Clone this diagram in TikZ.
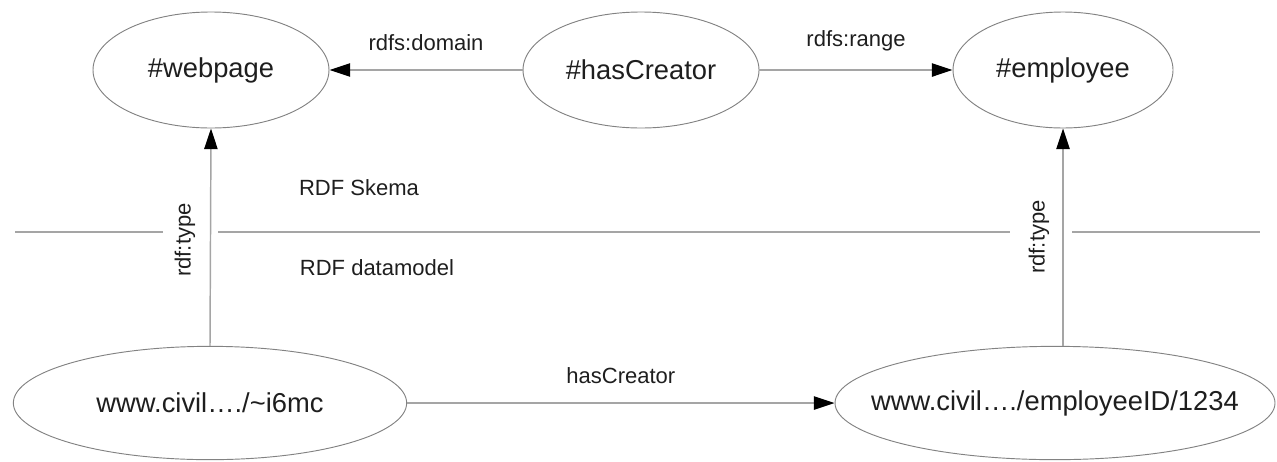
\documentclass[tikz,border=0pt]{standalone}
\usepackage{fontspec}
\setmainfont{Liberation Sans}
\usetikzlibrary{arrows.meta,shapes.geometric}
\definecolor{edgegray}{RGB}{165,165,165}
\definecolor{ellgray}{RGB}{130,130,130}
\definecolor{txt}{RGB}{30,30,30}
\tikzset{
  ell/.style={ellipse, draw=ellgray, line width=0.7pt, inner sep=0pt},
  elltext/.style={text=txt, inner sep=0pt, font=\fontsize{20.5}{24}\selectfont},
  edge/.style={draw=edgegray, line width=1.1pt},
  arr/.style={edge, -{Triangle[length=15.5pt,width=10pt,fill=black,color=black]}},
  lbl/.style={text=txt, inner sep=0pt, font=\fontsize{16.5}{20}\selectfont},
}
\begin{document}
\begin{tikzpicture}[x=0.75pt,y=-0.75pt]
\useasboundingbox (0,0) rectangle (1277,461);
% top ellipses
\node[ell, minimum width=177pt, minimum height=87pt,
  label={[elltext]center:\#webpage}] (web) at (211,70) {};
\node[ell, minimum width=177pt, minimum height=87pt,
  label={[elltext]center:\#hasCreator}] (hasc) at (641,70) {};
\node[ell, minimum width=165pt, minimum height=87pt,
  label={[elltext]center:\#employee}] (emp) at (1063,70) {};
% bottom ellipses
\node[ell, minimum width=295pt, minimum height=85pt,
  label={[elltext]center:www.civil…./\textasciitilde i6mc}] (page) at (210,403) {};
\node[ell, minimum width=330pt, minimum height=85pt,
  label={[elltext]center:www.civil…./employeeID/1234}] (empid) at (1055,403) {};
% separator
\coordinate (s1) at (15,232);
\coordinate (s2) at (163,232);
\coordinate (s3) at (218,232);
\coordinate (s4) at (1010,232);
\coordinate (s5) at (1072,232);
\coordinate (s6) at (1260,232);
\draw[edge, line width=0.8pt] (s1) -- (s2);
\draw[edge, line width=0.8pt] (s3) -- (s4);
\draw[edge, line width=0.8pt] (s5) -- (s6);
\node[lbl] (skema) at (359,188) {RDF Skema};
\node[lbl] (dm) at (377,268) {RDF datamodel};
% connectors
\draw[arr] (hasc.west) -- node[lbl, above=14pt] (ldom) {rdfs:domain} (web.east);
\draw[arr] (hasc.east) -- node[lbl, above=14pt] (lran) {rdfs:range} (emp.west);
\draw[arr] (page.east) -- node[lbl, above=14pt] (lhc) {hasCreator} (empid.west);
\draw[arr] (page.north) -- (web.south);
\draw[arr] (emp.south |- empid.north) -- (emp.south);
\node[lbl, rotate=90] (t1) at (185,240) {rdf:type};
\node[lbl, rotate=90] (t2) at (1039,237) {rdf:type};
\end{tikzpicture}
\end{document}
